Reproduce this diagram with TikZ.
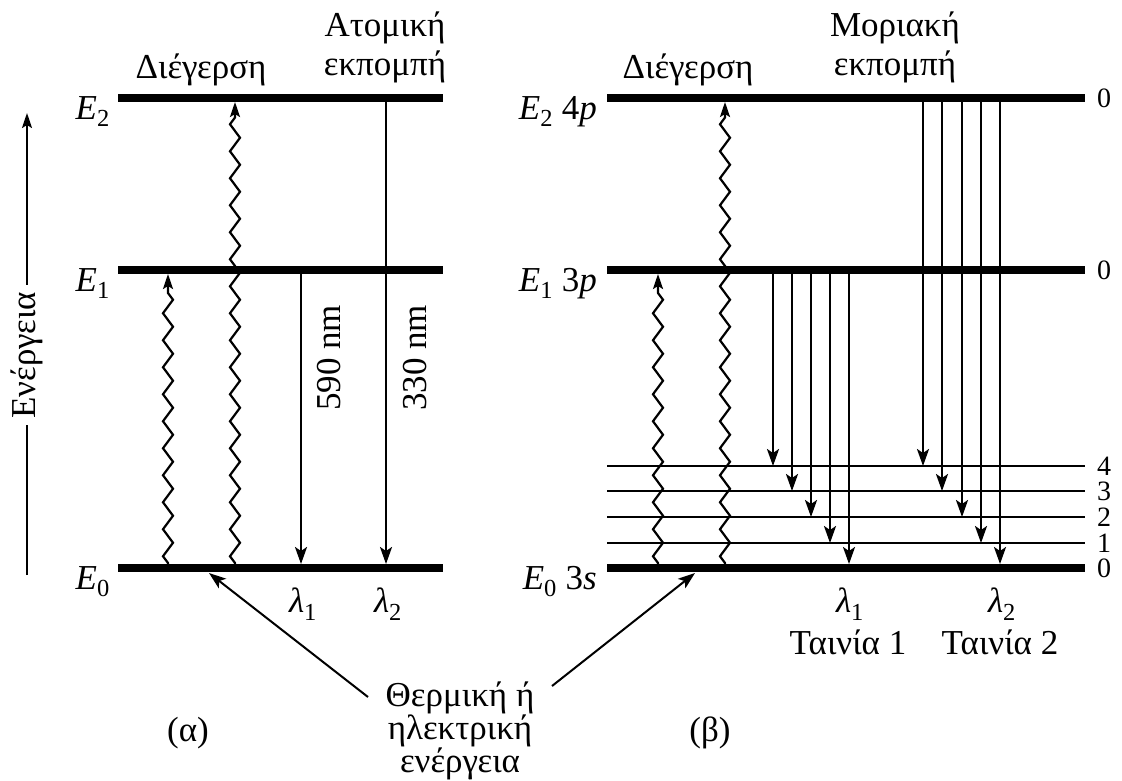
\documentclass[tikz,border=0pt]{standalone}
\usepackage{fontspec}
\setmainfont{Liberation Serif}
\usetikzlibrary{calc}
\usetikzlibrary{arrows.meta}
\usetikzlibrary{decorations.pathmorphing}

\tikzset{
  level/.style={line width=8pt},
  sublevel/.style={line width=2.2pt},
  emit/.style={line width=2.4pt, -{Stealth[length=17pt,width=12pt,inset=4pt]}},
  excite/.style={line width=2.2pt, decorate,
    decoration={zigzag, segment length=27pt, amplitude=5pt, pre length=2pt, post length=14pt},
    -{Stealth[length=15pt,width=10pt,inset=3pt]}},
  pointer/.style={line width=2pt, -{Stealth[length=17pt,width=12pt,inset=4pt]}},
  lbl/.style={font=\fontsize{35}{39}\selectfont, inner sep=0pt},
  vnum/.style={font=\fontsize{28}{30}\selectfont, inner sep=0pt, anchor=west},
}

\begin{document}
\begin{tikzpicture}[x=1pt, y=-1pt]
\useasboundingbox (0,0) rectangle (1122,780);
\def\yA{98}
\def\yB{270}
\def\yC{568}

% Energy axis
\draw[line width=2pt, -{Stealth[length=15pt,width=10pt,inset=3pt]}] (27,575) -- (27,113)
  node[pos=0.476, lbl, fill=white, rotate=90, inner sep=7pt] (axis) {Ενέργεια};

% (a) atomic levels
\draw[level] (118,\yA) -- (443,\yA);
\draw[level] (118,\yB) -- (443,\yB);
\draw[level] (118,\yC) -- (443,\yC);
\node[lbl, anchor=base east] (E2a) at (110,119) {\textit{E}\textsubscript{2}};
\node[lbl, anchor=base east] (E1a) at (110,291) {\textit{E}\textsubscript{1}};
\node[lbl, anchor=base east] (E0a) at (110,589) {\textit{E}\textsubscript{0}};

% excitation and emission, (a)
\draw[excite] (168,565) -- (168,274);
\draw[excite] (235,565) -- (235,102);
\draw[emit] (301,\yB) -- (301,564);
\draw[emit] (386,\yA) -- (386,564);
\node[lbl, rotate=90] (l590) at (329,358) {590 nm};
\node[lbl, rotate=90] (l330) at (415,358) {330 nm};
\node[lbl] (lam1a) at (303,604) {\textit{λ}\textsubscript{1}};
\node[lbl] (lam2a) at (388,604) {\textit{λ}\textsubscript{2}};
\node[lbl] (exa) at (201,70) {Διέγερση};
\node[lbl, align=center] (ata) at (385,47) {Ατομική\\εκπομπή};
\node[lbl] (capa) at (188,733) {(α)};

% (b) molecular levels
\draw[level] (607,\yA) -- (1085,\yA);
\draw[level] (607,\yB) -- (1085,\yB);
\draw[level] (607,\yC) -- (1085,\yC);
\draw[sublevel] (607,466) -- (1085,466);
\draw[sublevel] (607,491) -- (1085,491);
\draw[sublevel] (607,517) -- (1085,517);
\draw[sublevel] (607,543) -- (1085,543);
\node[lbl, anchor=base east] (E2b) at (597,119) {\textit{E}\textsubscript{2} 4\textit{p}};
\node[lbl, anchor=base east] (E1b) at (597,291) {\textit{E}\textsubscript{1} 3\textit{p}};
\node[lbl, anchor=base east] (E0b) at (597,589) {\textit{E}\textsubscript{0} 3\textit{s}};
\node[vnum] (v2) at (1097,\yA) {0};
\node[vnum] (v1) at (1097,\yB) {0};
\node[vnum] (s4) at (1097,466) {4};
\node[vnum] (s3) at (1097,491) {3};
\node[vnum] (s2) at (1097,517) {2};
\node[vnum] (s1) at (1097,543) {1};
\node[vnum] (s0) at (1097,\yC) {0};

% excitation, (b)
\draw[excite] (658,565) -- (658,274);
\draw[excite] (725,565) -- (725,102);

% band 1: E1 -> vibrational levels
\draw[emit] (773,\yB) -- (773,466);
\draw[emit] (792,\yB) -- (792,491);
\draw[emit] (811,\yB) -- (811,517);
\draw[emit] (830,\yB) -- (830,543);
\draw[emit] (849,\yB) -- (849,564);

% band 2: E2 -> vibrational levels
\draw[emit] (923,\yA) -- (923,466);
\draw[emit] (942,\yA) -- (942,491);
\draw[emit] (962,\yA) -- (962,517);
\draw[emit] (981,\yA) -- (981,543);
\draw[emit] (1000,\yA) -- (1000,564);

\node[lbl] (lam1b) at (850,604) {\textit{λ}\textsubscript{1}};
\node[lbl] (lam2b) at (1002,604) {\textit{λ}\textsubscript{2}};
\node[lbl] (band1) at (848,642) {Ταινία 1};
\node[lbl] (band2) at (1000,642) {Ταινία 2};
\node[lbl] (exb) at (688,70) {Διέγερση};
\node[lbl, align=center] (mol) at (895,47) {Μοριακή\\εκπομπή};
\node[lbl] (capb) at (710,733) {(β)};

% Thermal / electrical energy
\node[lbl, align=center, font=\fontsize{35}{32}\selectfont] (heat) at (460,731) {Θερμική ή\\ηλεκτρική\\ενέργεια};
\coordinate (hL) at (368,697);
\coordinate (hR) at (552,686);
\coordinate (g0a) at (209,573);
\coordinate (g0b) at (695,573);
\draw[pointer] (hL) -- (g0a);
\draw[pointer] (hR) -- (g0b);
\end{tikzpicture}
\end{document}
